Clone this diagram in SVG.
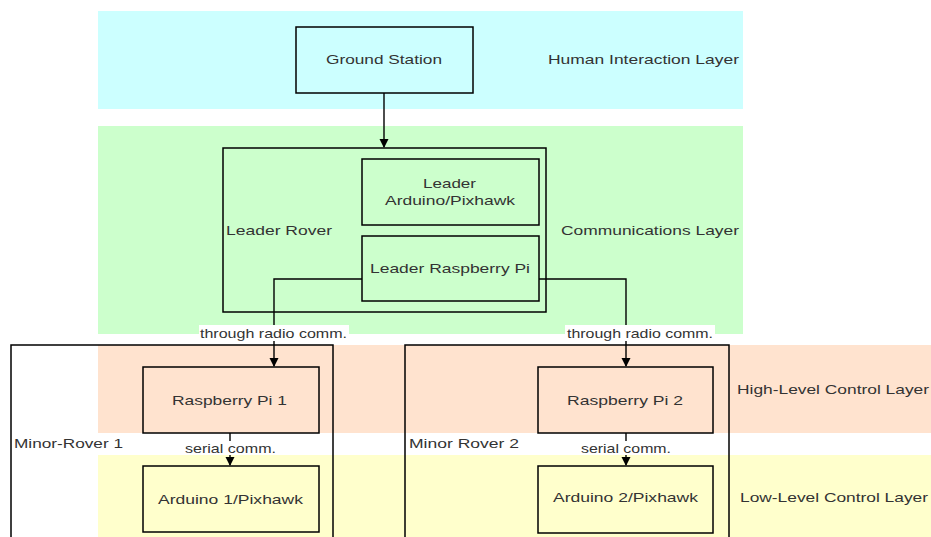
<svg xmlns="http://www.w3.org/2000/svg" width="931" height="537" viewBox="0 0 931 537">
<defs>
<style>
text{font-family:"Liberation Sans",Arial,sans-serif;font-size:13.5px;fill:#333;}
.box{fill:none;stroke:#000;stroke-width:1.5;}
.ln{fill:none;stroke:#000;stroke-width:1.4;}
.lbl{fill:#fff;}
</style>
<marker id="ah" markerWidth="10" markerHeight="10" refX="8" refY="5" orient="auto" markerUnits="userSpaceOnUse">
<path d="M0,0.5 L9,5 L0,9.5 Z" fill="#000"/>
</marker>
</defs>
<rect width="931" height="537" fill="#fff"/>
<g id="layers">
<rect x="98" y="11" width="645" height="98" fill="#ccffff"/>
<rect x="98" y="126" width="645" height="208" fill="#ccffcc"/>
<rect x="98" y="345" width="833" height="88" fill="#ffe3cf"/>
<rect x="98" y="455" width="833" height="82" fill="#ffffcc"/>
<text x="548" y="64" textLength="191" lengthAdjust="spacingAndGlyphs">Human Interaction Layer</text>
<text x="561" y="235" textLength="178" lengthAdjust="spacingAndGlyphs">Communications Layer</text>
<text x="737" y="394" textLength="192" lengthAdjust="spacingAndGlyphs">High-Level Control Layer</text>
<text x="740" y="502" textLength="188" lengthAdjust="spacingAndGlyphs">Low-Level Control Layer</text>
</g>
<g id="ground-station">
<rect class="box" x="296" y="27" width="177" height="66"/>
<text x="326" y="64" textLength="116" lengthAdjust="spacingAndGlyphs">Ground Station</text>
</g>
<g id="leader-rover">
<rect class="box" x="223" y="148" width="323" height="164"/>
<text x="226" y="235" textLength="106" lengthAdjust="spacingAndGlyphs">Leader Rover</text>
</g>
<g id="leader-arduino">
<rect class="box" x="362" y="159" width="177" height="66"/>
<text x="423" y="188" textLength="53" lengthAdjust="spacingAndGlyphs">Leader</text>
<text x="385" y="205" textLength="130" lengthAdjust="spacingAndGlyphs">Arduino/Pixhawk</text>
</g>
<g id="leader-pi">
<rect class="box" x="362" y="236" width="177" height="65"/>
<text x="370" y="273" textLength="160" lengthAdjust="spacingAndGlyphs">Leader Raspberry Pi</text>
</g>
<g id="minor-rover-1">
<rect class="box" x="11" y="345" width="322" height="200"/>
<text x="14" y="448" textLength="109" lengthAdjust="spacingAndGlyphs">Minor-Rover 1</text>
</g>
<g id="minor-rover-2">
<rect class="box" x="405" y="345" width="324" height="200"/>
<text x="409" y="448" textLength="110" lengthAdjust="spacingAndGlyphs">Minor Rover 2</text>
</g>
<g id="pi-1">
<rect class="box" x="143" y="367" width="176" height="66"/>
<text x="172" y="405" textLength="115" lengthAdjust="spacingAndGlyphs">Raspberry Pi 1</text>
</g>
<g id="arduino-1">
<rect class="box" x="143" y="466" width="176" height="66"/>
<text x="158" y="504" textLength="145" lengthAdjust="spacingAndGlyphs">Arduino 1/Pixhawk</text>
</g>
<g id="pi-2">
<rect class="box" x="538" y="367" width="175" height="66"/>
<text x="567" y="405" textLength="116" lengthAdjust="spacingAndGlyphs">Raspberry Pi 2</text>
</g>
<g id="arduino-2">
<rect class="box" x="538" y="466" width="175" height="67"/>
<text x="553" y="502" textLength="145" lengthAdjust="spacingAndGlyphs">Arduino 2/Pixhawk</text>
</g>
<g id="connectors">
<path class="ln" d="M384,93 V147" marker-end="url(#ah)"/>
<path class="ln" d="M362,279 H274 V366" marker-end="url(#ah)"/>
<path class="ln" d="M539,279 H626 V366" marker-end="url(#ah)"/>
<path class="ln" d="M230,433 V465" marker-end="url(#ah)"/>
<path class="ln" d="M626,433 V465" marker-end="url(#ah)"/>
<rect class="lbl" x="199" y="325" width="150" height="16"/>
<text x="200" y="338" textLength="147" lengthAdjust="spacingAndGlyphs">through radio comm.</text>
<rect class="lbl" x="565" y="325" width="150" height="16"/>
<text x="567" y="338" textLength="146" lengthAdjust="spacingAndGlyphs">through radio comm.</text>
<rect class="lbl" x="184" y="441" width="93" height="14"/>
<text x="185" y="453" textLength="91" lengthAdjust="spacingAndGlyphs">serial comm.</text>
<rect class="lbl" x="580" y="441" width="93" height="14"/>
<text x="581" y="453" textLength="90" lengthAdjust="spacingAndGlyphs">serial comm.</text>
</g>
</svg>
